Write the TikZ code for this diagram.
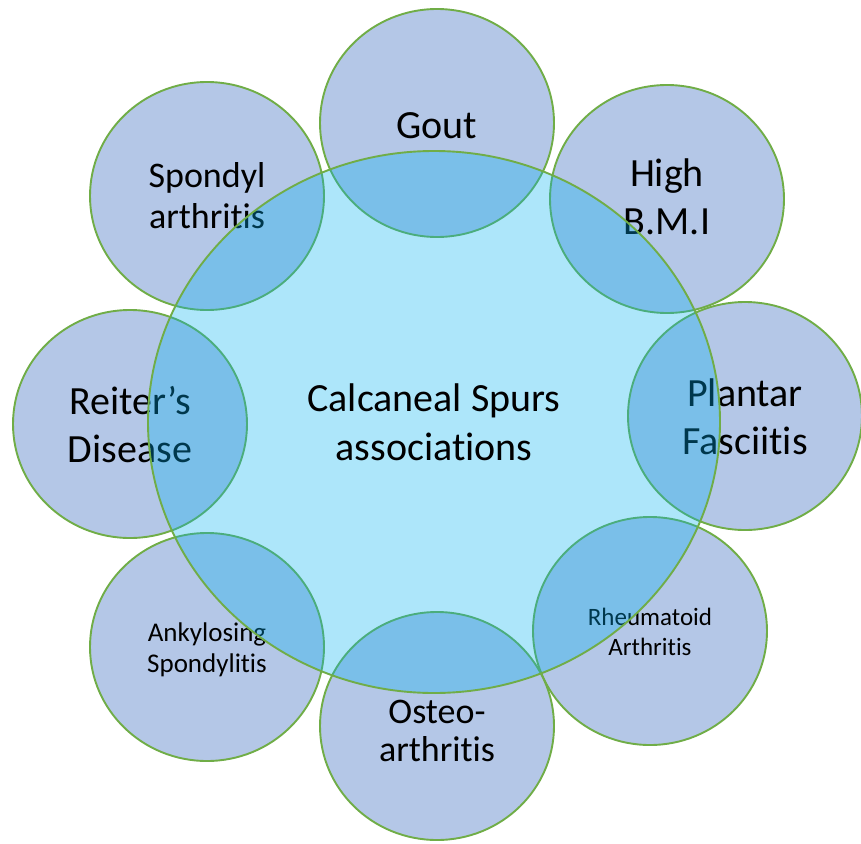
\documentclass[tikz,border=0pt]{standalone}
\usepackage{fontspec}
\setmainfont{Carlito}[Ligatures=NoCommon]
\usepackage{tikz}
\usetikzlibrary{
    shapes.geometric
}
\definecolor{spurgreen}{HTML}{70AD47}
\definecolor{spurgrey}{HTML}{B4C7E7}
\definecolor{spurcyan}{HTML}{00B0F0}

\begin{document}
\begin{tikzpicture}[
        x=1pt, y=-1pt,
        assoc/.style={
            ellipse,
            draw=spurgreen,
            line width=1.9pt,
            fill=spurgrey,
            minimum width=234pt,
            minimum height=228pt,
            inner sep=0pt
        },
        tag/.style={
            align=center,
            inner sep=0pt,
            font=\fontsize{40}{48}\selectfont
        },
        hub/.style={
            ellipse,
            draw=spurgreen,
            line width=1.9pt,
            fill=spurcyan,
            fill opacity=0.32,
            draw opacity=1,
            text opacity=1,
            minimum width=572pt,
            minimum height=542pt,
            inner sep=0pt,
            align=center,
            font=\fontsize{40}{49}\selectfont
        }
    ]
    \useasboundingbox (0,0) rectangle (861,843);

    % outer circles
    \node[assoc] (gout) at (437,123) {};
    \node[assoc] (bmi) at (667,199) {};
    \node[assoc] (plantar) at (745,416) {};
    \node[assoc] (rheuma) at (650,631) {};
    \node[assoc] (osteo) at (437,726) {};
    \node[assoc] (ankyl) at (207,647) {};
    \node[assoc] (reiter) at (130,424) {};
    \node[assoc] (spondyl) at (207,196) {};

    % their texts
    \node[tag] (gouttext) at (437,126) {Gout};
    \node[tag] (bmitext) at (667,197) {High\\B.M.I};
    \node[tag] (plantartext) at (745,417) {Plantar\\Fasciitis};
    \node[tag, font=\fontsize{25}{30}\selectfont] (rheumatext) at (650,632) {Rheumatoid\\Arthritis};
    \node[tag, font=\fontsize{36}{38}\selectfont] (osteotext) at (437,731) {Osteo-\\arthritis};
    \node[tag, font=\fontsize{27}{31}\selectfont] (ankyltext) at (207,650) {Ankylosing\\Spondylitis};
    \node[tag] (reitertext) at (130,425) {Reiter’s\\Disease};
    \node[tag, font=\fontsize{36}{41}\selectfont] (spondyltext) at (207,196) {Spondyl\\arthritis};

    % centre
    \node[hub] (spurs) at (434,422) {Calcaneal Spurs\\associations};

\end{tikzpicture}
\end{document}
